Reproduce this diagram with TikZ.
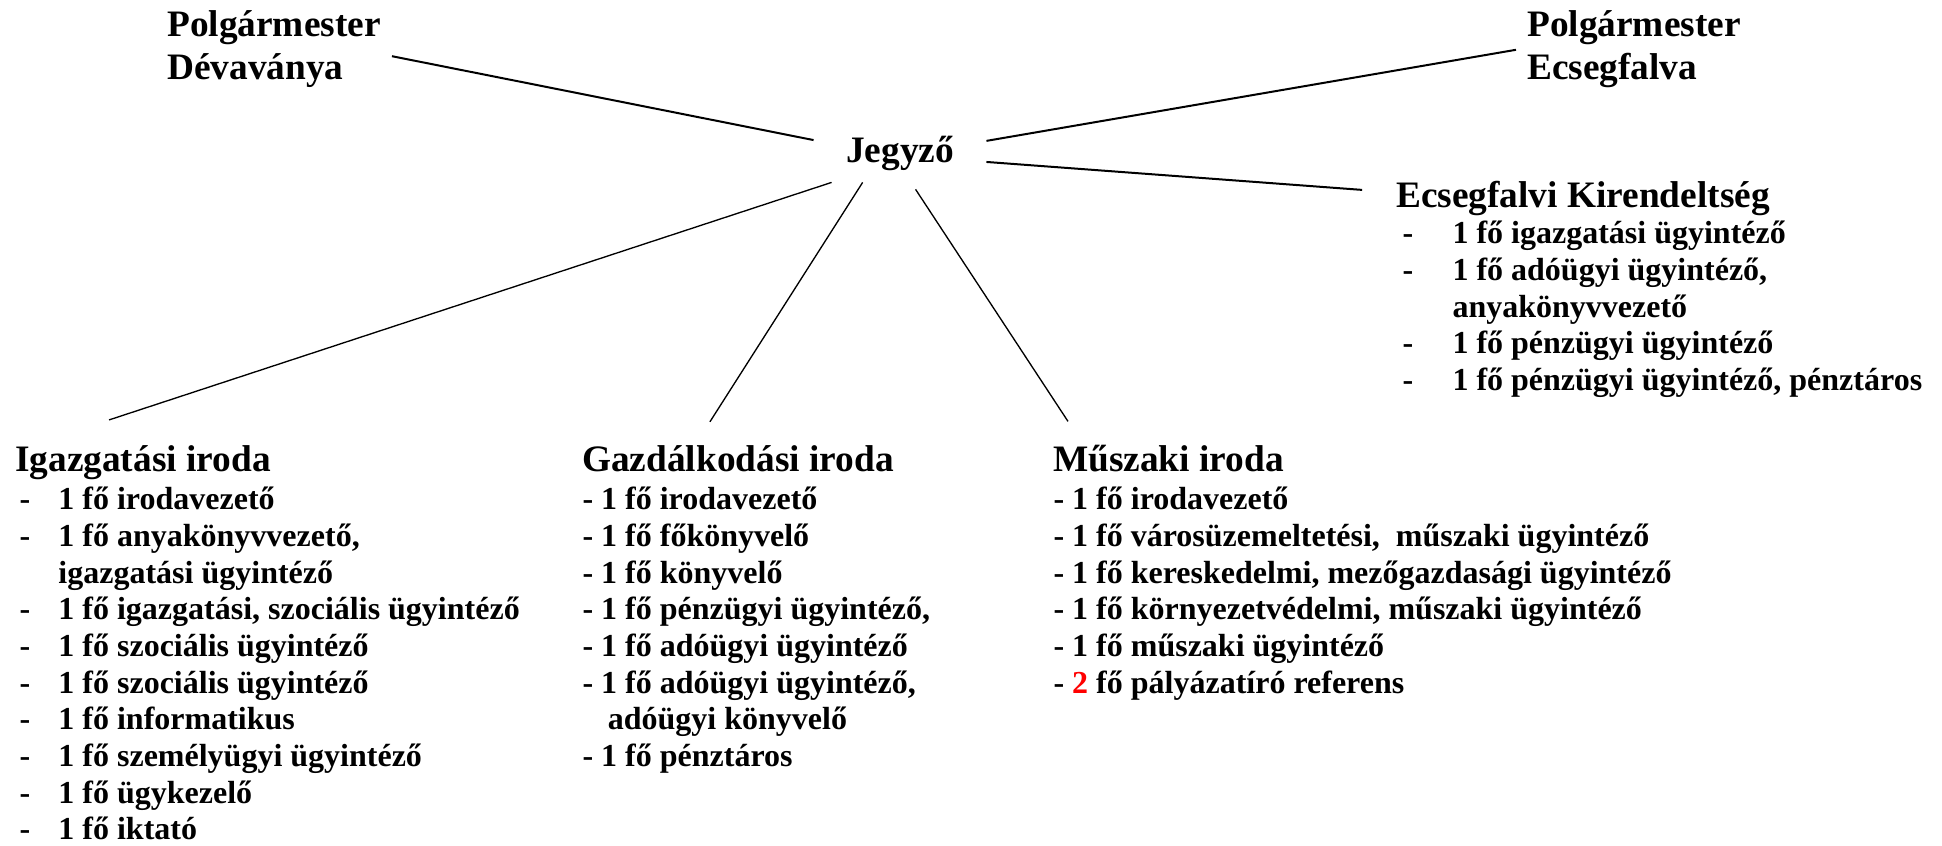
\documentclass[tikz,border=0pt]{standalone}
\usepackage{fontspec}
\setmainfont{Liberation Serif}
\usetikzlibrary{positioning}

\begin{document}
\begin{tikzpicture}[x=0.375pt,y=-0.375pt,
  cim/.style={font=\fontsize{14}{16}\selectfont\bfseries,inner sep=4pt,anchor=base west},
  lista/.style={font=\fontsize{12}{13.75}\selectfont\bfseries,inner sep=0pt,anchor=base west},
  vonal/.style={line width=0.75pt},
  vekony/.style={line width=0.5pt}]
\useasboundingbox (0,0) rectangle (1942,846);

\node[cim] (polgdev) at (156,37) {\begin{tabular}[t]{@{}l@{}}Polgármester\\Dévaványa\end{tabular}};
\node[cim] (polgecs) at (1516,37) {\begin{tabular}[t]{@{}l@{}}Polgármester\\Ecsegfalva\end{tabular}};
\node[cim,anchor=base,inner xsep=12pt] (jegyzo) at (900,163) {Jegyző};

\node[cim] (kirend) at (1385,208) {Ecsegfalvi Kirendeltség};
\node[lista] (kirendl) at (1402,244) {\begin{tabular}[t]{@{}p{18.75pt}@{}l@{}}
-&1 fő igazgatási ügyintéző\\
-&1 fő adóügyi ügyintéző,\\
 &anyakönyvvezető\\
-&1 fő pénzügyi ügyintéző\\
-&1 fő pénzügyi ügyintéző, pénztáros\end{tabular}};

\node[cim] (igazg) at (4,472) {Igazgatási iroda};
\node[lista] (igazgl) at (19,510) {\begin{tabular}[t]{@{}p{14.6pt}@{}l@{}}
-&1 fő irodavezető\\
-&1 fő anyakönyvvezető,\\
 &igazgatási ügyintéző\\
-&1 fő igazgatási, szociális ügyintéző\\
-&1 fő szociális ügyintéző\\
-&1 fő szociális ügyintéző\\
-&1 fő informatikus\\
-&1 fő személyügyi ügyintéző\\
-&1 fő ügykezelő\\
-&1 fő iktató\end{tabular}};

\node[cim] (gazd) at (571,472) {Gazdálkodási iroda};
\node[lista] (gazdl) at (582,510) {\begin{tabular}[t]{@{}l@{}}
- 1 fő irodavezető\\
- 1 fő főkönyvelő\\
- 1 fő könyvelő\\
- 1 fő pénzügyi ügyintéző,\\
- 1 fő adóügyi ügyintéző\\
- 1 fő adóügyi ügyintéző,\\
\hspace*{9.5pt}adóügyi könyvelő\\
- 1 fő pénztáros\end{tabular}};

\node[cim] (musz) at (1042,472) {Műszaki iroda};
\node[lista] (muszl) at (1053,510) {\begin{tabular}[t]{@{}l@{}}
- 1 fő irodavezető\\
- 1 fő városüzemeltetési, \ műszaki ügyintéző\\
- 1 fő kereskedelmi, mezőgazdasági ügyintéző\\
- 1 fő környezetvédelmi, műszaki ügyintéző\\
- 1 fő műszaki ügyintéző\\
- \textcolor{red}{2} fő pályázatíró referens\end{tabular}};

% felso vonalak
\draw[vonal] ([yshift=-2.4pt]polgdev.east) -- ([yshift=5.2pt]jegyzo.west);
\draw[vonal] ([yshift=4.9pt]jegyzo.east) -- (polgecs.west);
\draw[vonal] ([yshift=-3pt]jegyzo.east) -- ([xshift=-8.6pt,yshift=3.4pt]kirend.west);
% irodak
\draw[vekony] ([xshift=6.75pt]jegyzo.south west) -- ([xshift=39.4pt,yshift=5.6pt]igazg.north west);
\draw[vekony] ([xshift=18.4pt]jegyzo.south west) -- ([xshift=52.1pt,yshift=4.9pt]gazd.north west);
\draw[vekony] ([xshift=38.25pt,yshift=-2.6pt]jegyzo.south west) -- ([xshift=9.75pt,yshift=4.9pt]musz.north west);
\end{tikzpicture}
\end{document}
